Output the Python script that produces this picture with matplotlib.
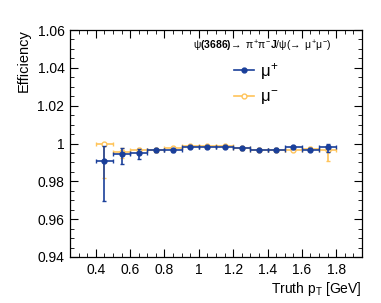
import matplotlib
matplotlib.use("Agg")
import matplotlib.pyplot as plt
from matplotlib.lines import Line2D
from matplotlib.ticker import MultipleLocator
import numpy as np

plt.rcParams['font.family'] = ['Liberation Sans', 'DejaVu Sans']
plt.rcParams['mathtext.fontset'] = 'custom'
plt.rcParams['mathtext.rm'] = 'Liberation Sans'
plt.rcParams['mathtext.it'] = 'Liberation Sans'
plt.rcParams['mathtext.bf'] = 'Liberation Sans:bold'

# Data
pt_centers = [0.45, 0.55, 0.65, 0.75, 0.85, 0.95, 1.05, 1.15, 1.25, 1.35, 1.45, 1.55, 1.65, 1.75]
bin_halfwidth = 0.05
eff_muplus = [0.9910, 0.9945, 0.9949, 0.9965, 0.9965, 0.9984, 0.9983, 0.9983, 0.9975, 0.9967, 0.9968, 0.9979, 0.9968, 0.9980]
err_lo_muplus = [0.0215, 0.0053, 0.0030, 0.0010, 0.0010, 0.0007, 0.0007, 0.0007, 0.0008, 0.0008, 0.0008, 0.0008, 0.0010, 0.0024]
err_hi_muplus = [0.0076, 0.0030, 0.0020, 0.0008, 0.0008, 0.0005, 0.0005, 0.0005, 0.0006, 0.0006, 0.0006, 0.0006, 0.0008, 0.0018]
eff_muminus = [1.0000, 0.9956, 0.9963, 0.9966, 0.9977, 0.9986, 0.9986, 0.9985, 0.9978, 0.9968, 0.9966, 0.9967, 0.9971, 0.9963]
err_lo_muminus = [0.0180, 0.0035, 0.0020, 0.0010, 0.0008, 0.0006, 0.0006, 0.0006, 0.0007, 0.0008, 0.0008, 0.0008, 0.0010, 0.0053]
err_hi_muminus = [0.0000, 0.0020, 0.0015, 0.0008, 0.0006, 0.0004, 0.0004, 0.0004, 0.0005, 0.0006, 0.0006, 0.0006, 0.0008, 0.0020]

blue = '#1a3f9a'
orange = '#ffc45a'

fig = plt.figure(figsize=(3.81, 3.03), dpi=100)
ax = fig.add_axes([70/381, 46/303, 292/381, 227/303])

ax.errorbar(pt_centers, eff_muminus, yerr=[err_lo_muminus, err_hi_muminus], xerr=bin_halfwidth,
            fmt='o', color=orange, mfc='white', mec=orange, ms=3.5, elinewidth=1.2, capsize=1.2,
            mew=1.0, zorder=2)
ax.errorbar(pt_centers, eff_muplus, yerr=[err_lo_muplus, err_hi_muplus], xerr=bin_halfwidth,
            fmt='o', color=blue, mfc=blue, mec=blue, ms=3.5, elinewidth=1.2, capsize=1.2,
            zorder=3)

ax.set_xlim(0.25, 1.95)
ax.set_ylim(0.94, 1.06)
ax.xaxis.set_minor_locator(MultipleLocator(0.05))
ax.yaxis.set_minor_locator(MultipleLocator(0.005))
ax.set_xticks([0.4, 0.6, 0.8, 1.0, 1.2, 1.4, 1.6, 1.8])
ax.set_xticklabels(['0.4', '0.6', '0.8', '1', '1.2', '1.4', '1.6', '1.8'])
ax.set_yticks([0.94, 0.96, 0.98, 1.0, 1.02, 1.04, 1.06])
ax.set_yticklabels(['0.94', '0.96', '0.98', '1', '1.02', '1.04', '1.06'])
ax.tick_params(which='both', direction='in', top=True, right=True, labelsize=10, pad=4)
ax.tick_params(which='major', length=6)
ax.tick_params(which='minor', length=3)
for s in ax.spines.values():
    s.set_linewidth(0.9)

ax.set_ylabel('Efficiency', fontsize=10.5, loc='top')
ax.set_xlabel(r'Truth p$_{\mathregular{T}}$ [GeV]', fontsize=10, loc='right')
ax.yaxis.set_label_coords(-0.135, 1.005)
ax.xaxis.set_label_coords(1.0, -0.10)

fig.text(193/381, 1 - 46/303,
         r'$\psi\mathbf{(3686)}\!\rightarrow\ \pi^{+}\pi^{-}\mathbf{J}/\psi(\!\rightarrow\ \mu^{+}\mu^{-})$',
         fontsize=7.5, ha='left', va='center')

handles = [Line2D([], [], color=blue, marker='o', ms=3.5, mfc=blue, lw=1.2),
           Line2D([], [], color=orange, marker='o', ms=3.5, mfc='white', mew=1.0, lw=1.2)]
ax.legend(handles, [r'$\mu^{+}$', r'$\mu^{-}$'], loc='upper left',
          bbox_to_anchor=(219/381, 1 - 46/303), bbox_transform=fig.transFigure,
          frameon=False, fontsize=12, handlelength=1.2, handletextpad=0.35, labelspacing=0.4)

fig.savefig('out.png', dpi=100)
